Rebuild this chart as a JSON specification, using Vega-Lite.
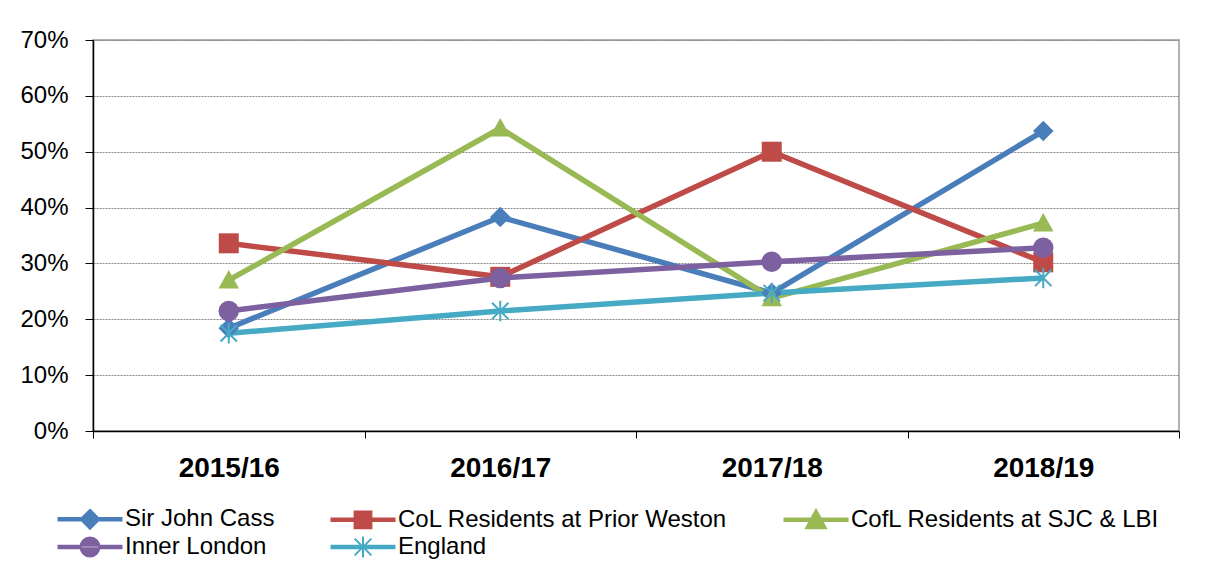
{
  "$schema": "https://vega.github.io/schema/vega-lite/v6.json",
  "width": 1086,
  "height": 391,
  "autosize": {"type": "none"},
  "padding": {"left": 93, "top": 40, "right": 37, "bottom": 144},
  "background": "white",
  "config": {
    "font": "Liberation Sans",
    "view": {"stroke": "#999999", "strokeWidth": 1.5}
  },
  "data": {
    "values": [
      {"year": "2015/16", "series": "Sir John Cass", "value": 0.184},
      {"year": "2016/17", "series": "Sir John Cass", "value": 0.383},
      {"year": "2017/18", "series": "Sir John Cass", "value": 0.247},
      {"year": "2018/19", "series": "Sir John Cass", "value": 0.537},
      {"year": "2015/16", "series": "CoL Residents at Prior Weston", "value": 0.336},
      {"year": "2016/17", "series": "CoL Residents at Prior Weston", "value": 0.276},
      {"year": "2017/18", "series": "CoL Residents at Prior Weston", "value": 0.5},
      {"year": "2018/19", "series": "CoL Residents at Prior Weston", "value": 0.302},
      {"year": "2015/16", "series": "CofL Residents at SJC & LBI", "value": 0.27},
      {"year": "2016/17", "series": "CofL Residents at SJC & LBI", "value": 0.542},
      {"year": "2017/18", "series": "CofL Residents at SJC & LBI", "value": 0.238},
      {"year": "2018/19", "series": "CofL Residents at SJC & LBI", "value": 0.372},
      {"year": "2015/16", "series": "Inner London", "value": 0.215},
      {"year": "2016/17", "series": "Inner London", "value": 0.274},
      {"year": "2017/18", "series": "Inner London", "value": 0.303},
      {"year": "2018/19", "series": "Inner London", "value": 0.328},
      {"year": "2015/16", "series": "England", "value": 0.175},
      {"year": "2016/17", "series": "England", "value": 0.215},
      {"year": "2017/18", "series": "England", "value": 0.247},
      {"year": "2018/19", "series": "England", "value": 0.274}
    ]
  },
  "encoding": {
    "x": {
      "field": "year",
      "type": "ordinal",
      "bandPosition": 0.5,
      "scale": {"type": "band", "paddingInner": 0, "paddingOuter": 0},
      "axis": {
        "title": null,
        "labelAngle": 0,
        "labelFontSize": 28,
        "labelFontWeight": "bold",
        "labelColor": "black",
        "labelPadding": 16,
        "tickBand": "extent",
        "tickSize": 7,
        "tickColor": "black",
        "domainColor": "black",
        "domainWidth": 1.5,
        "grid": false
      }
    },
    "y": {
      "field": "value",
      "type": "quantitative",
      "scale": {"domain": [0, 0.7], "nice": false},
      "axis": {
        "title": null,
        "format": ".0%",
        "values": [0, 0.1, 0.2, 0.3, 0.4, 0.5, 0.6, 0.7],
        "labelFontSize": 24,
        "labelColor": "black",
        "labelPadding": 17,
        "tickSize": 8,
        "tickColor": "black",
        "domainColor": "black",
        "domainWidth": 1.5,
        "gridColor": "#888888",
        "gridDash": [2, 1],
        "gridWidth": 1
      }
    },
    "color": {
      "field": "series",
      "type": "nominal",
      "sort": null,
      "scale": {
        "domain": ["Sir John Cass", "CoL Residents at Prior Weston", "CofL Residents at SJC & LBI", "Inner London", "England"],
        "range": ["#4A7EBB", "#BE4B48", "#98B954", "#7D60A0", "#46AAC5"]
      },
      "legend": {
        "orient": "none",
        "legendX": -15,
        "legendY": 467,
        "direction": "horizontal",
        "columns": 3,
        "title": null,
        "padding": 0,
        "labelFontSize": 24,
        "labelColor": "black",
        "labelLimit": 0,
        "labelOffset": 23,
        "symbolSize": 441,
        "columnPadding": 52,
        "rowPadding": -1,
        "symbolStrokeWidth": 2,
        "encode": {
          "symbols": {
            "update": {
              "shape": {"signal": "datum.value === 'Sir John Cass' ? 'M-3,-0.12L3,-0.12L3,0.12L-3,0.12ZM0,-0.9L0.9,0L0,0.9L-0.9,0Z' : datum.value === 'CoL Residents at Prior Weston' ? 'M-3,-0.12L3,-0.12L3,0.12L-3,0.12ZM-0.8,-0.8L0.8,-0.8L0.8,0.8L-0.8,0.8Z' : datum.value === 'CofL Residents at SJC & LBI' ? 'M-3,-0.12L3,-0.12L3,0.12L-3,0.12ZM0,-0.95L0.95,0.8L-0.95,0.8Z' : datum.value === 'Inner London' ? 'M-3,-0.12L3,-0.12L3,0.12L-3,0.12ZM-0.9,0A0.9,0.9,0,1,0,0.9,0A0.9,0.9,0,1,0,-0.9,0Z' : 'M-3,-0.12L3,-0.12L3,0.12L-3,0.12ZM0,-1L0,1M-0.8,-0.8L0.8,0.8M-0.8,0.8L0.8,-0.8'"},
              "fill": {"scale": "color", "field": "value"},
              "stroke": {"scale": "color", "field": "value"},
              "strokeWidth": {"value": 2},
              "opacity": {"value": 1}
            }
          }
        }
      }
    }
  },
  "layer": [
    {
      "mark": {"type": "line", "strokeWidth": 5.5}
    },
    {
      "transform": [{"filter": "datum.series === 'Sir John Cass'"}],
      "mark": {"type": "point", "filled": true, "opacity": 1, "size": 420, "shape": "diamond"}
    },
    {
      "transform": [{"filter": "datum.series === 'CoL Residents at Prior Weston'"}],
      "mark": {"type": "point", "filled": true, "opacity": 1, "size": 400, "shape": "square"}
    },
    {
      "transform": [{"filter": "datum.series === 'CofL Residents at SJC & LBI'"}],
      "mark": {"type": "point", "filled": true, "opacity": 1, "size": 420, "shape": "M0,-1L1,0.8L-1,0.8Z"}
    },
    {
      "transform": [{"filter": "datum.series === 'Inner London'"}],
      "mark": {"type": "point", "filled": true, "opacity": 1, "size": 420, "shape": "circle"}
    },
    {
      "transform": [{"filter": "datum.series === 'England'"}],
      "mark": {"type": "point", "filled": false, "opacity": 1, "size": 420, "strokeWidth": 2, "shape": "M0,-1L0,1M-0.8,-0.8L0.8,0.8M-0.8,0.8L0.8,-0.8"}
    }
  ]
}
